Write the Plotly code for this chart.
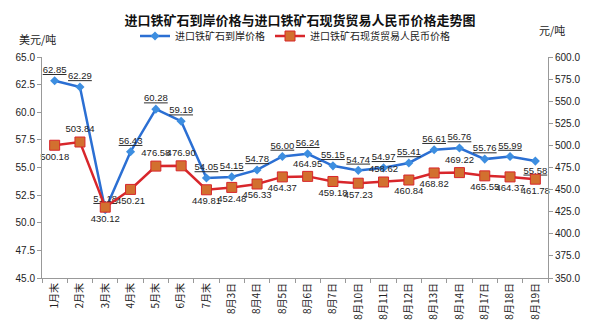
import plotly.graph_objects as go

categories = ["1月末", "2月末", "3月末", "4月末", "5月末", "6月末", "7月末",
              "8月3日", "8月4日", "8月5日", "8月6日", "8月7日", "8月10日", "8月11日",
              "8月12日", "8月13日", "8月14日", "8月17日", "8月18日", "8月19日"]
usd_price = [62.85, 62.29, 51.18, 56.43, 60.28, 59.19, 54.05, 54.15, 54.78, 56.00,
             56.24, 55.15, 54.74, 54.97, 55.41, 56.61, 56.76, 55.76, 55.99, 55.58]
rmb_price = [500.18, 503.84, 430.12, 450.21, 476.58, 476.90, 449.81, 452.48, 456.33, 464.37,
             464.95, 459.18, 457.23, 458.62, 460.84, 468.82, 469.22, 465.55, 464.37, 461.78]

usd_pos = ["top center"] * len(usd_price)
usd_pos[19] = "bottom center"
rmb_pos = ["bottom center"] * len(rmb_price)
for i in (1, 4, 5, 10, 13, 16):
    rmb_pos[i] = "top center"

FONT = "Liberation Sans, Arial, Noto Sans CJK SC, sans-serif"
CJK = "Noto Sans CJK SC, sans-serif"

fig = go.Figure()
fig.add_trace(go.Scatter(
    x=categories, y=usd_price, name="进口铁矿石到岸价格",
    mode="lines+markers+text",
    line=dict(color="#2B6FD3", width=2.5),
    marker=dict(symbol="diamond", size=7, color="#3D8EE0", line=dict(width=0)),
    text=[f"<u>{v:.2f}</u>" for v in usd_price], textposition=usd_pos,
    textfont=dict(family=FONT, size=9.5, color="#222222"),
    cliponaxis=False,
))
fig.add_trace(go.Scatter(
    x=categories, y=rmb_price, name="进口铁矿石现货贸易人民币价格",
    mode="lines+markers+text", yaxis="y2",
    line=dict(color="#D8262B", width=2.5),
    marker=dict(symbol="square", size=10, color="#D2702F", line=dict(color="#D8262B", width=1)),
    text=[f"{v:.2f}" for v in rmb_price], textposition=rmb_pos,
    textfont=dict(family=FONT, size=9.5, color="#222222"),
    cliponaxis=False,
))

L, R, T, B = 42, 52, 57, 56
pw, ph = 600 - L - R, 334 - T - B

def px(x, y):
    return (x - L) / pw, (334 - B - y) / ph

a0 = px(37, 39)
a1 = px(552, 30)

fig.update_layout(
    width=600, height=334,
    margin=dict(l=L, r=R, t=T, b=B),
    paper_bgcolor="white", plot_bgcolor="white",
    title=dict(text="<b>进口铁矿石到岸价格与进口铁矿石现货贸易人民币价格走势图</b>",
               x=0.5, xanchor="center", y=0.94, yanchor="middle",
               font=dict(family=CJK, size=13, color="#111111")),
    legend=dict(orientation="h", x=0.5, xanchor="center", y=px(0, 36)[1], yanchor="middle",
                font=dict(family=CJK, size=10, color="#222222"),
                bgcolor="rgba(0,0,0,0)", itemwidth=30, tracegroupgap=0),
    showlegend=True,
    xaxis=dict(type="category", range=[-0.5, len(categories) - 0.5],
               showline=True, linecolor="#999999", linewidth=1,
               ticks="outside", tickson="boundaries", ticklen=4, tickcolor="#999999",
               tickangle=-90, tickfont=dict(family=CJK, size=10, color="#222222"),
               showgrid=False, zeroline=False),
    yaxis=dict(range=[45, 65], dtick=2.5, tickformat=".1f", showline=True,
               linecolor="#999999", linewidth=1, ticks="outside", ticklen=4,
               tickcolor="#999999", showgrid=False, zeroline=False,
               tickfont=dict(family=FONT, size=10, color="#222222")),
    yaxis2=dict(range=[350, 600], dtick=25, tickformat=".1f", overlaying="y",
                side="right", showline=True, linecolor="#999999", linewidth=1,
                ticks="outside", ticklen=4, tickcolor="#999999", showgrid=False,
                zeroline=False, tickfont=dict(family=FONT, size=10, color="#222222")),
    annotations=[
        dict(text="美元/吨", x=a0[0], y=a0[1], xref="paper", yref="paper",
             xanchor="center", yanchor="middle", showarrow=False,
             font=dict(family=CJK, size=11, color="#222222")),
        dict(text="元/吨", x=a1[0], y=a1[1], xref="paper", yref="paper",
             xanchor="center", yanchor="middle", showarrow=False,
             font=dict(family=CJK, size=11, color="#222222")),
    ],
)

fig.write_html("out.html")
